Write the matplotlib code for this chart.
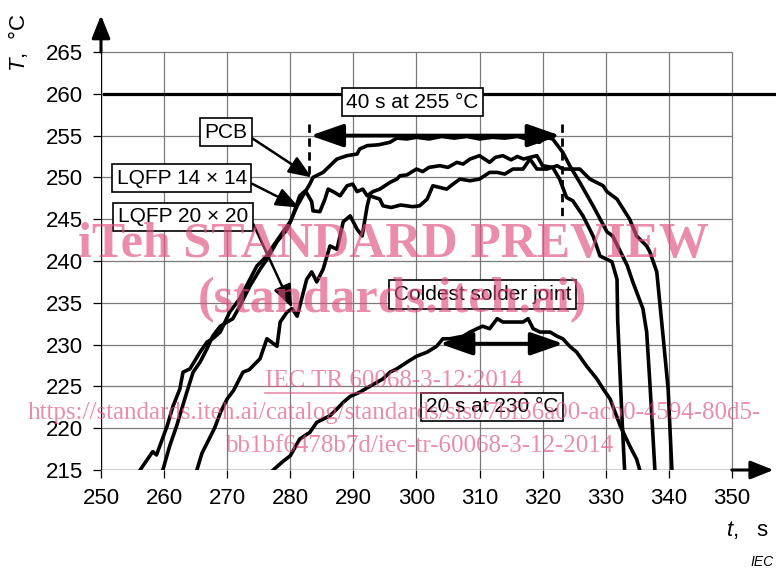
import matplotlib
matplotlib.use("Agg")
import matplotlib.pyplot as plt

plt.rcParams["font.family"] = ["Liberation Sans", "DejaVu Sans"]
plt.rcParams["mathtext.fontset"] = "custom"
plt.rcParams["mathtext.it"] = "Liberation Sans:italic"
plt.rcParams["mathtext.rm"] = "Liberation Sans"

# temperature profiles (time in s, temperature in degC)
pcb_t = [256.2, 258.2, 258.8, 260.5, 261.4, 262.5, 263.0, 264.1, 265.7, 266.8, 267.7, 268.9,
         270.4, 272.0, 273.6, 274.7, 276.3, 277.3, 278.4, 280.0, 281.1, 282.0, 283.1, 283.6,
         285.2, 286.3, 287.4, 289.0, 290.6, 291.0, 292.2, 294.0, 295.8, 296.9, 298.5, 300.0,
         302.0, 304.0, 306.0, 308.0, 310.0, 312.0, 314.0, 316.0, 318.0, 319.5, 320.5, 321.6,
         323.2, 324.3, 325.9, 328.0, 330.2, 331.1, 333.4, 334.3, 335.9, 336.5, 337.0, 337.5, 337.8]
pcb_T = [215.0, 217.2, 216.8, 220.3, 222.6, 224.7, 226.7, 227.1, 229.1, 230.3, 230.7, 231.5,
         233.9, 235.5, 237.8, 239.4, 240.6, 241.8, 243.0, 244.7, 246.6, 247.8, 249.2, 250.0,
         250.6, 251.4, 252.2, 252.6, 252.8, 253.4, 253.8, 253.9, 254.2, 254.7, 254.6, 254.8,
         254.6, 254.9, 254.7, 254.9, 254.6, 254.8, 254.7, 254.9, 254.5, 254.2, 254.8, 254.6,
         253.0, 251.4, 249.4, 246.6, 243.5, 243.0, 239.5, 237.5, 234.3, 231.5, 225.5, 219.0, 215.0]

lqfp14_t = [259.8, 260.9, 262.0, 263.6, 264.6, 265.7, 266.8, 267.7, 268.9, 270.9, 272.0, 273.6,
            275.2, 276.3, 277.9, 279.5, 280.4, 281.5, 282.4, 283.4, 283.6, 284.7, 285.5, 286.0,
            286.8, 287.9, 289.0, 289.9, 290.6, 291.5, 292.2, 293.1, 294.2, 295.8, 296.9, 297.4,
            298.5, 300.0, 301.0, 302.0, 303.7, 305.0, 306.4, 307.4, 308.5, 310.0, 311.6, 312.5,
            313.7, 315.0, 316.0, 317.0, 318.0, 319.1, 320.0, 321.6, 322.7, 323.8, 324.8, 326.4,
            328.0, 329.1, 331.0, 331.8, 331.9, 332.6, 333.0]
lqfp14_T = [215.0, 217.9, 220.3, 224.3, 226.7, 227.9, 229.5, 231.0, 232.2, 233.1, 234.6, 237.0,
            239.0, 240.2, 242.3, 243.8, 245.4, 247.8, 248.4, 247.1, 246.0, 245.9, 247.4, 248.6,
            248.3, 247.8, 249.0, 249.2, 248.3, 248.6, 247.8, 248.3, 248.6, 249.4, 249.8, 250.2,
            250.3, 251.0, 250.7, 251.2, 251.4, 251.2, 251.8, 251.6, 252.2, 252.6, 251.8, 252.4,
            252.6, 252.1, 252.5, 252.2, 252.4, 252.6, 251.4, 251.2, 249.8, 247.6, 247.2, 245.4,
            243.0, 240.6, 239.9, 237.8, 233.0, 221.0, 215.0]

lqfp20_t = [265.2, 266.0, 267.0, 268.0, 269.0, 270.0, 271.0, 272.5, 273.5, 275.2, 276.3, 277.9,
            278.4, 279.5, 280.3, 281.1, 282.6, 283.4, 284.2, 285.2, 286.3, 287.4, 288.4, 289.5,
            290.6, 291.4, 292.2, 292.6, 294.2, 294.7, 296.0, 297.5, 299.4, 300.5, 301.7, 302.6,
            303.7, 304.8, 305.8, 306.9, 308.5, 310.0, 311.6, 312.8, 314.0, 315.3, 316.9, 318.0,
            319.1, 320.7, 322.3, 323.2, 325.9, 327.5, 329.6, 330.2, 331.8, 333.8, 334.9, 336.5,
            337.0, 338.1, 339.1, 339.9, 340.5]
lqfp20_T = [215.0, 217.0, 218.5, 220.0, 222.0, 223.5, 224.5, 226.7, 227.0, 228.3, 230.7, 229.8,
            232.7, 233.9, 234.3, 233.4, 237.8, 238.7, 237.5, 239.0, 241.8, 241.4, 244.7, 245.4,
            243.8, 243.0, 246.6, 247.8, 247.4, 246.6, 246.4, 246.7, 246.5, 246.6, 247.4, 249.0,
            248.8, 248.6, 249.2, 249.8, 249.6, 249.8, 250.6, 250.6, 250.4, 251.0, 251.0, 252.2,
            251.0, 251.0, 251.4, 251.0, 251.0, 249.8, 249.0, 248.3, 247.4, 245.0, 243.0, 241.8,
            241.1, 238.7, 231.0, 224.7, 215.0]

cold_t = [277.3, 278.8, 280.0, 281.5, 283.1, 284.2, 286.3, 287.4, 288.4, 289.5, 291.0, 292.6,
          294.7, 295.8, 296.9, 298.5, 300.0, 301.7, 303.2, 304.2, 305.3, 307.4, 308.5, 309.6,
          310.5, 311.6, 312.8, 313.7, 315.9, 316.9, 317.7, 318.5, 319.6, 321.2, 322.3, 323.2,
          324.3, 325.4, 327.0, 328.6, 329.6, 330.7, 332.3, 333.8, 334.9, 335.4]
cold_T = [215.0, 216.0, 216.7, 218.7, 219.5, 220.7, 221.5, 222.3, 223.1, 223.8, 224.3, 225.0,
          225.9, 226.7, 227.1, 227.9, 228.6, 229.1, 229.8, 230.7, 230.7, 231.0, 231.5, 231.9,
          232.2, 231.9, 233.1, 232.7, 232.7, 232.7, 233.1, 231.9, 231.5, 231.5, 231.0, 230.7,
          229.8, 229.1, 227.4, 225.9, 224.7, 223.5, 220.3, 217.9, 216.3, 215.0]

x_ticks = list(range(250, 351, 10))
y_ticks = list(range(215, 266, 5))

W, H = 777, 571
fig = plt.figure(figsize=(W / 100, H / 100), dpi=100)
ax = fig.add_axes([101 / W, 1 - 470 / H, 675 / W, 455.6 / H])
ax.set_xlim(250, 357)
ax.set_ylim(215, 269.5)
for s in ax.spines.values():
    s.set_visible(False)

# grid
ax.vlines(x_ticks, 215, 265, color="#7a7a7a", lw=0.9, zorder=1)
ax.hlines(y_ticks, 250, 350, color="#7a7a7a", lw=0.9, zorder=1)
ax.vlines(250, 215, 265, color="k", lw=0.9, zorder=1)
ax.hlines(215, 250, 350, color="k", lw=0.9, zorder=1)

# axis arrows
arrow_kw = dict(arrowstyle="-|>,head_length=0.7,head_width=0.28", lw=2.2, color="k",
                shrinkA=0, shrinkB=0, mutation_scale=20)
ax.annotate("", xy=(250, 269.4), xytext=(250, 265), arrowprops=arrow_kw, annotation_clip=False)
ax.annotate("", xy=(356.6, 215), xytext=(350, 215), arrowprops=arrow_kw, annotation_clip=False)

ax.set_xticks(x_ticks)
ax.set_yticks(y_ticks)
ax.tick_params(direction="out", length=6, width=0.9, labelsize=16, pad=7)

# 260 degC limit line
ax.plot([250.4, 357], [260, 260], color="k", lw=2.3, zorder=3)

for t, T in [(pcb_t, pcb_T), (lqfp14_t, lqfp14_T), (lqfp20_t, lqfp20_T), (cold_t, cold_T)]:
    ax.plot(t, T, color="k", lw=2.6, solid_joinstyle="round", zorder=4)

# time-above markers
ax.plot([283, 283], [256.4, 249.8], color="k", lw=2, ls=(0, (3, 2)), zorder=5)
ax.plot([323, 323], [256.4, 245.3], color="k", lw=2, ls=(0, (3, 2)), zorder=5)
dbl = dict(arrowstyle="<|-|>,head_length=1.0,head_width=0.35", lw=2.8, color="k",
           shrinkA=0, shrinkB=0, mutation_scale=20)
ax.annotate("", xy=(283.2, 255), xytext=(322.8, 255), arrowprops=dbl, zorder=6)
ax.annotate("", xy=(303.7, 230.1), xytext=(323.3, 230.1), arrowprops=dbl, zorder=6)

box = dict(boxstyle="square,pad=0.22", fc="white", ec="k", lw=1.2)
ax.text(299.4, 259.0, "40 s at 255 °C", ha="center", va="center", fontsize=15, bbox=box, zorder=7)
ax.text(310.5, 236.0, "Coldest solder joint", ha="center", va="center", fontsize=15, bbox=box, zorder=7)
ax.text(312.0, 222.55, "20 s at 230 °C", ha="center", va="center", fontsize=15, bbox=box, zorder=7)

lab_arrow = dict(arrowstyle="-|>,head_length=0.7,head_width=0.28", lw=1.8, color="k",
                 shrinkA=0, shrinkB=0, mutation_scale=20)
ax.annotate("PCB", xy=(283.4, 250.0), xytext=(269.8, 255.4), ha="center", va="center",
            fontsize=15, bbox=box, zorder=7, arrowprops=dict(lab_arrow, relpos=(1, 0.35)))
ax.annotate("LQFP 14 × 14", xy=(281.4, 246.4), xytext=(262.8, 249.9), ha="center", va="center",
            fontsize=15, bbox=box, zorder=7, arrowprops=dict(lab_arrow, relpos=(1, 0.35)))
ax.annotate("LQFP 20 × 20", xy=(280.3, 234.4), xytext=(263.0, 245.3), ha="center", va="center",
            fontsize=15, bbox=box, zorder=7, arrowprops=dict(lab_arrow, relpos=(1, 0.7)))

# axis titles
fig.text(18 / W, 1 - 43 / H, "$T$,  °C", rotation=90, ha="center", va="center", fontsize=16)
fig.text(748 / W, 1 - 530 / H, "$t$,   s", ha="center", va="center", fontsize=16)
fig.text(762 / W, 1 - 562 / H, "IEC", ha="center", va="center", fontsize=10, style="italic")

# preview watermark
wm = dict(color="#E0507F", alpha=0.65, family="Liberation Serif", ha="center", va="center", zorder=10)
fig.text(393 / W, 1 - 245 / H, "iTeh STANDARD PREVIEW", fontsize=36, weight="bold", **wm)
fig.text(393 / W, 1 - 300 / H, "(standards.iteh.ai)", fontsize=36, weight="bold", **wm)
fig.text(394 / W, 1 - 381 / H, "IEC TR 60068-3-12:2014", fontsize=18, **wm)
fig.add_artist(plt.Line2D([265 / W, 523 / W], [1 - 393 / H, 1 - 393 / H], color="#E0507F",
                          alpha=0.65, lw=1.2))
fig.text(394 / W, 1 - 413 / H,
         "https://standards.iteh.ai/catalog/standards/sist/7bf56a00-acb0-4594-80d5-", fontsize=18, **wm)
fig.text(419 / W, 1 - 446 / H, "bb1bf6478b7d/iec-tr-60068-3-12-2014", fontsize=18, **wm)

fig.savefig("out.png", dpi=100)
